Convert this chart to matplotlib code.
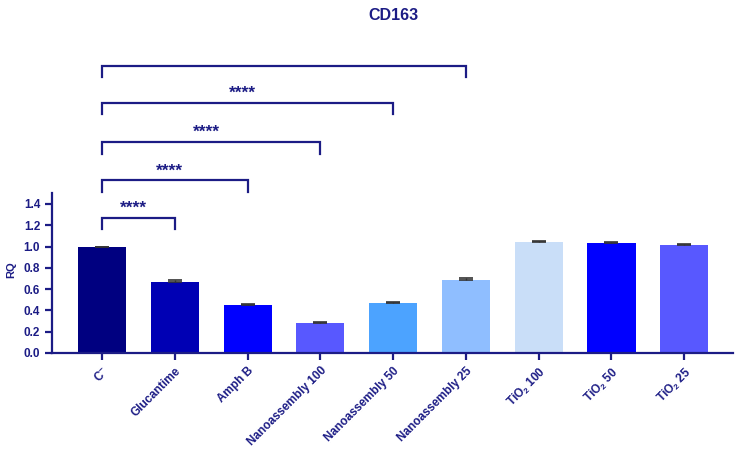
import matplotlib
matplotlib.use("Agg")
import matplotlib.pyplot as plt

plt.rcParams['font.family'] = ['Liberation Sans', 'DejaVu Sans']
plt.rcParams['font.weight'] = 'bold'
plt.rcParams['mathtext.fontset'] = 'custom'
plt.rcParams['mathtext.rm'] = 'Liberation Sans:bold'
plt.rcParams['mathtext.bf'] = 'Liberation Sans:bold'
plt.rcParams['mathtext.default'] = 'bf'

navy = '#1c1c85'

labels = [r'C$^{-}$', 'Glucantime', 'Amph B', 'Nanoassembly 100', 'Nanoassembly 50',
          'Nanoassembly 25', r'TiO$_2$ 100', r'TiO$_2$ 50', r'TiO$_2$ 25']
values = [1.00, 0.67, 0.45, 0.28, 0.47, 0.69, 1.04, 1.03, 1.01]
errors = [0.0, 0.012, 0.012, 0.015, 0.012, 0.012, 0.010, 0.010, 0.012]
colors = ['#000080', '#0000b4', '#0000ff', '#5858ff', '#4ca3ff',
          '#8fbeff', '#c9def8', '#0000ff', '#5858ff']

# significance brackets: (from, to, height, stars)
sig_from = [0, 0, 0, 0, 0]
sig_to = [1, 2, 3, 4, 5]
sig_height = [1.27, 1.62, 1.98, 2.35, 2.70]
sig_text = ['****', '****', '****', '****', '']

fig = plt.figure(figsize=(7.43, 4.55), dpi=100)
ax = fig.add_axes([0.07, 0.2242, 0.9166, 0.688])

x = list(range(len(labels)))
ax.bar(x, values, width=0.66, color=colors, zorder=2)
ax.errorbar(x, values, yerr=[[0] * len(errors), errors], fmt='none',
            ecolor='#333333', elinewidth=1, capsize=5, capthick=1.2, zorder=3)

for a, b, h, t in zip(sig_from, sig_to, sig_height, sig_text):
    ax.plot([a, a, b, b], [h - 0.11, h, h, h - 0.11], color=navy, lw=1.6,
            clip_on=False, solid_joinstyle='miter')
    if t:
        ax.text((a + b) / 2 - 0.07, h + 0.02, t, ha='center', va='bottom',
                color=navy, fontsize=12.5, fontweight='bold')

ax.set_xlim(-0.687, 8.67)
ax.set_ylim(0, 2.94)
ax.set_yticks([0.0, 0.2, 0.4, 0.6, 0.8, 1.0, 1.2, 1.4])
ax.set_yticklabels(['0.0', '0.2', '0.4', '0.6', '0.8', '1.0', '1.2', '1.4'])
ax.set_xticks(x)
ax.set_xticklabels(labels, rotation=45, ha='right', rotation_mode='anchor')

for s in ['top', 'right']:
    ax.spines[s].set_visible(False)
ax.spines['left'].set_bounds(0, 1.5)
for s in ['left', 'bottom']:
    ax.spines[s].set_color(navy)
    ax.spines[s].set_linewidth(1.6)
ax.tick_params(colors=navy, width=1.6, length=5, labelsize=8.5)
for lab in ax.get_xticklabels() + ax.get_yticklabels():
    lab.set_fontweight('bold')
    lab.set_color(navy)

ax.set_ylabel('RQ', color=navy, fontsize=8, fontweight='bold', labelpad=4)
ax.yaxis.set_label_coords(-0.052, 0.265)

fig.text(0.529, 0.965, 'CD163', ha='center', va='center', color=navy,
         fontsize=11.5, fontweight='bold')

fig.savefig('out.png', dpi=100)
